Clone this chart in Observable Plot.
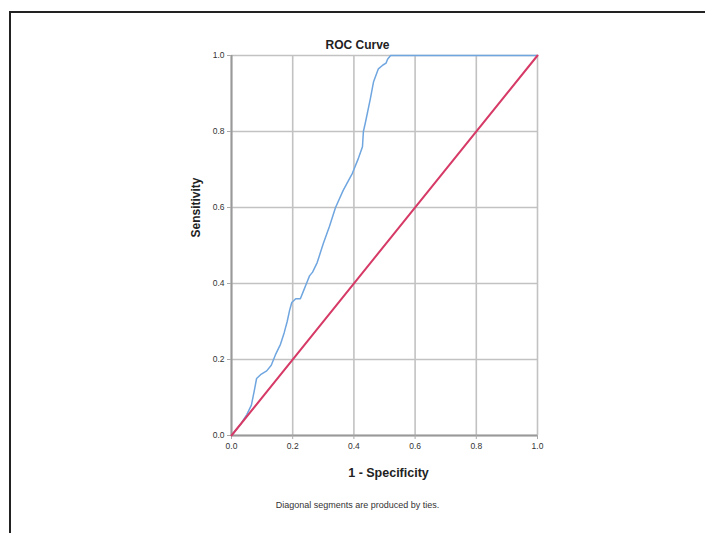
<!DOCTYPE html>
<html>
<head>
<meta charset="utf-8">
<script src="https://cdn.jsdelivr.net/npm/d3@7"></script>
<script src="https://cdn.jsdelivr.net/npm/@observablehq/plot@0.6"></script>
<style>
  html, body { margin: 0; padding: 0; background: #fff; overflow: hidden; }
  #wrap { position: relative; width: 705px; height: 533px; overflow: hidden; }
  #frame { position: absolute; left: 9px; top: 11px; width: 760px; height: 600px;
           border: 2px solid #222; pointer-events: none; box-sizing: border-box; }
</style>
</head>
<body>
<div id="wrap"><div id="chart"></div><div id="frame"></div></div>
<script>
// ROC curve (1 - Specificity, Sensitivity)
const fpr = [0, 0.03, 0.05, 0.065, 0.075, 0.082, 0.095, 0.115, 0.13, 0.145, 0.16, 0.172, 0.182, 0.19, 0.197, 0.21, 0.225, 0.235, 0.245, 0.255, 0.265, 0.28, 0.29, 0.30, 0.32, 0.34, 0.365, 0.395, 0.415, 0.428, 0.431, 0.438, 0.454, 0.464, 0.48, 0.495, 0.505, 0.51, 0.52, 1.0];
const tpr = [0, 0.03, 0.055, 0.08, 0.12, 0.15, 0.16, 0.17, 0.185, 0.215, 0.24, 0.27, 0.30, 0.33, 0.35, 0.36, 0.36, 0.38, 0.40, 0.42, 0.43, 0.455, 0.48, 0.505, 0.55, 0.60, 0.645, 0.69, 0.73, 0.76, 0.80, 0.825, 0.887, 0.93, 0.965, 0.975, 0.98, 0.99, 1.0, 1.0];
// Reference line
const diagX = [0, 1];
const diagY = [0, 1];
const ticks = [0, 0.2, 0.4, 0.6, 0.8, 1.0];
const titleText = "ROC Curve";
const xLabel = "1 - Specificity";
const yLabel = "Sensitivity";
const captionText = "Diagonal segments are produced by ties.";

const curve = fpr.map((x, i) => ({x, y: tpr[i]}));
const diag = diagX.map((x, i) => ({x, y: diagY[i]}));

const chart = Plot.plot({
  width: 705,
  height: 533,
  marginLeft: 231,
  marginRight: 168,
  marginTop: 55,
  marginBottom: 98,
  style: { fontFamily: "Liberation Sans, Arial, sans-serif", background: "#fff", color: "#333" },
  x: { domain: [0, 1], ticks, tickFormat: d3.format(".1f"), label: null },
  y: { domain: [0, 1], ticks, tickFormat: d3.format(".1f"), label: null },
  marks: [
    Plot.gridX(ticks, { stroke: "#c2c2c2", strokeOpacity: 1, strokeWidth: 1.6 }),
    Plot.gridY(ticks, { stroke: "#c2c2c2", strokeOpacity: 1, strokeWidth: 1.6 }),
    Plot.ruleX([0], { stroke: "#999", strokeWidth: 2 }),
    Plot.ruleY([0], { stroke: "#999", strokeWidth: 2 }),
    Plot.axisX({ ticks, tickSize: 4, tickPadding: 3, fontSize: 8.5, stroke: "#aaa", fill: "#333", tickFormat: d3.format(".1f"), label: null }),
    Plot.axisY({ ticks, tickSize: 4, tickPadding: 3, fontSize: 8.5, stroke: "#aaa", fill: "#333", tickFormat: d3.format(".1f"), label: null }),
    Plot.line(curve, { x: "x", y: "y", stroke: "#6fa6e0", strokeWidth: 1.5 }),
    Plot.line(diag, { x: "x", y: "y", stroke: "#d63a66", strokeWidth: 2 }),
    Plot.text([titleText], { text: d => d, frameAnchor: "top", dx: -27, dy: -15, fontSize: 12, fontWeight: "bold", fill: "#222" }),
    Plot.text([xLabel], { text: d => d, frameAnchor: "bottom", dx: 4, dy: 41, fontSize: 12.5, fontWeight: "bold", fill: "#222" }),
    Plot.text([yLabel], { text: d => d, frameAnchor: "left", rotate: -90, dx: -35, dy: -8, fontSize: 12, fontWeight: "bold", fill: "#222" }),
    Plot.text([captionText], { text: d => d, frameAnchor: "bottom", dx: -27, dy: 72, fontSize: 9, fill: "#333" })
  ]
});
document.getElementById("chart").appendChild(chart);
</script>
</body>
</html>
